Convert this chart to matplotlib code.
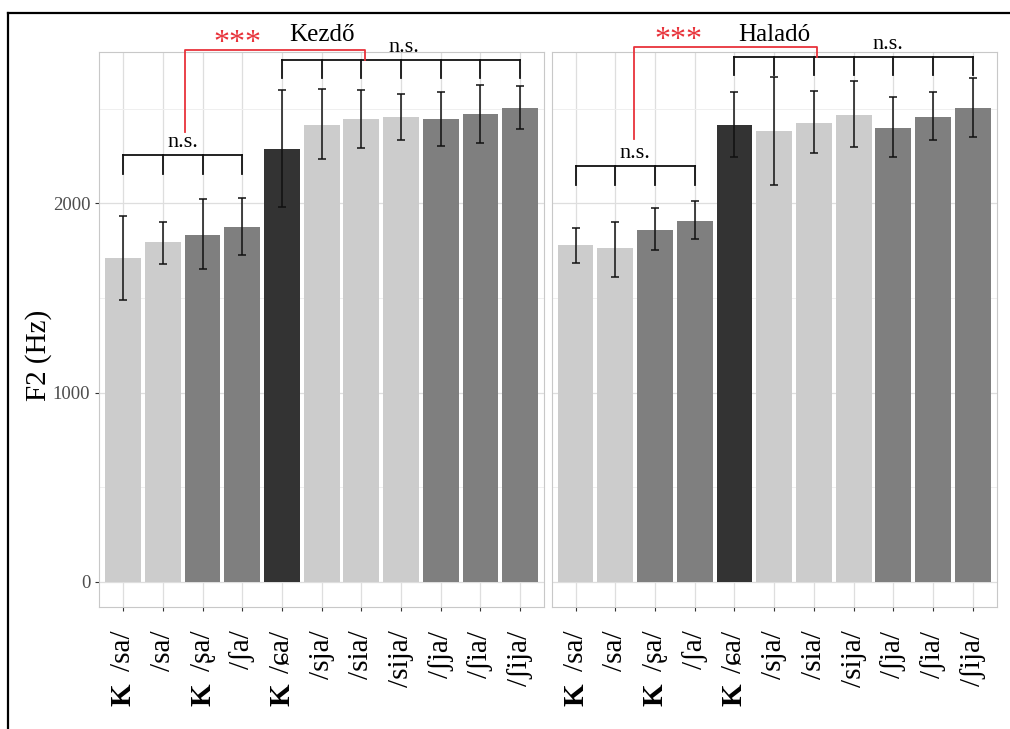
import matplotlib
matplotlib.use("Agg")
import matplotlib.pyplot as plt
from matplotlib.lines import Line2D
import numpy as np

plt.rcParams['font.family'] = ['Liberation Serif', 'DejaVu Serif']

# categories (x tick labels), K marks the ones with a bold K under them
labels = ['/sa/', '/sa/', '/ʂa/', '/ʃa/', '/ɕa/', '/sja/', '/sia/', '/sija/', '/ʃja/', '/ʃia/', '/ʃija/']
k_mark = [True, False, True, False, True, False, False, False, False, False, False]
bar_shade = ['light', 'light', 'mid', 'mid', 'dark', 'light', 'light', 'light', 'mid', 'mid', 'mid']

panels = ['Kezdő', 'Haladó']

kezdo_mean = [1714, 1794, 1831, 1873, 2289, 2416, 2444, 2455, 2444, 2471, 2503]
kezdo_lo = [1492, 1682, 1651, 1725, 1980, 2233, 2293, 2333, 2302, 2319, 2392]
kezdo_hi = [1931, 1902, 2021, 2026, 2598, 2607, 2600, 2580, 2589, 2626, 2621]

halado_mean = [1778, 1762, 1862, 1905, 2413, 2381, 2427, 2469, 2400, 2459, 2506]
halado_lo = [1686, 1612, 1754, 1812, 2243, 2097, 2266, 2298, 2243, 2333, 2349]
halado_hi = [1871, 1902, 1976, 2013, 2589, 2668, 2593, 2646, 2561, 2591, 2664]

# significance brackets per panel
low_br = [2256, 2197]
high_br = [2758, 2774]
red_top = [2811, 2827]
red_x = [(1.55, 6.08), (1.47, 6.09)]
red_foot = [2376, 2342]
ns_high_x = [7.06, 7.86]
star_x = [2.87, 2.6]

shade_col = {'light': '#cccccc', 'mid': '#7f7f7f', 'dark': '#333333'}

fig = plt.figure(figsize=(10.1, 7.29), dpi=100)
ax1 = fig.add_axes([0.0983, 0.1674, 0.4403, 0.7613])
ax2 = fig.add_axes([0.5462, 0.1674, 0.4406, 0.7613])

means = [kezdo_mean, halado_mean]
los = [kezdo_lo, halado_lo]
his = [kezdo_hi, halado_hi]

x = np.arange(len(labels))
for i, ax in enumerate([ax1, ax2]):
    m = np.array(means[i]); lo = np.array(los[i]); hi = np.array(his[i])
    ax.bar(x, m, 0.9, color=[shade_col[s] for s in bar_shade], zorder=2)
    ax.errorbar(x, m, yerr=[m - lo, hi - m], fmt='none', ecolor='#111111',
                elinewidth=1.1, capsize=3, capthick=1.1, zorder=3)

    ax.set_xlim(-0.6, len(labels) - 0.4)
    ax.set_ylim(-132, 2800)
    ax.set_yticks([0, 1000, 2000])
    ax.set_yticks([500, 1500, 2500], minor=True)
    ax.set_xticks(x)
    ax.set_xticklabels(labels, rotation=90, fontsize=21, va='top')
    ax.grid(True, which='major', color='#dedede', lw=0.9, zorder=0)
    ax.grid(True, which='minor', axis='y', color='#efefef', lw=0.7, zorder=0)
    ax.set_axisbelow(True)
    for sp in ax.spines.values():
        sp.set_color('#c8c8c8')
        sp.set_linewidth(0.8)
    ax.tick_params(axis='x', length=3, color='#333333', pad=14)
    ax.tick_params(axis='y', length=3, color='#333333', labelsize=13.5, labelcolor='#4d4d4d')
    ax.tick_params(which='minor', length=0)

    # bold K under some labels
    for xi, k in zip(x, k_mark):
        if k:
            ax.text(xi, -0.158, 'K', transform=ax.get_xaxis_transform(), rotation=90,
                    ha='center', va='center', fontsize=21, fontweight='bold')

    # panel title
    ax.text(0.5, 1.03, panels[i], transform=ax.transAxes, ha='center', va='center', fontsize=18)

    # lower n.s. bracket
    ax.plot([0, 3], [low_br[i]] * 2, color='#111111', lw=1.3, clip_on=False, zorder=4)
    for xi in range(0, 4):
        ax.plot([xi, xi], [low_br[i], low_br[i] - 100], color='#111111', lw=1.3, clip_on=False, zorder=4)
    ax.text(1.5, low_br[i] + 15, 'n.s.', ha='center', va='bottom', fontsize=16)

    # upper n.s. bracket
    ax.plot([4, 10], [high_br[i]] * 2, color='#111111', lw=1.3, clip_on=False, zorder=4)
    for xi in range(4, 11):
        ax.plot([xi, xi], [high_br[i], high_br[i] - 95], color='#111111', lw=1.3, clip_on=False, zorder=4)
    ax.text(ns_high_x[i], high_br[i] + 15, 'n.s.', ha='center', va='bottom', fontsize=16, clip_on=False)

    # red significance bracket
    rx0, rx1 = red_x[i]
    ax.plot([rx0, rx0, rx1, rx1], [red_foot[i], red_top[i], red_top[i], high_br[i]],
            color='#e8333b', lw=1.3, clip_on=False, zorder=5)
    ax.text(star_x[i], red_top[i] - 45, '***', ha='center', va='bottom', fontsize=23,
            color='#e8333b', clip_on=False)

ax2.tick_params(axis='y', left=False, labelleft=False)
fig.text(0.038, 0.513, 'F2 (Hz)', rotation=90, ha='center', va='center', fontsize=21)

# partial black frame (left and top)
fig.add_artist(Line2D([0.0084, 0.0084], [0, 0.9815], color='black', lw=1.6, transform=fig.transFigure))
fig.add_artist(Line2D([0.0084, 1.0], [0.9815, 0.9815], color='black', lw=1.6, transform=fig.transFigure))

fig.savefig('out.png', dpi=100)
